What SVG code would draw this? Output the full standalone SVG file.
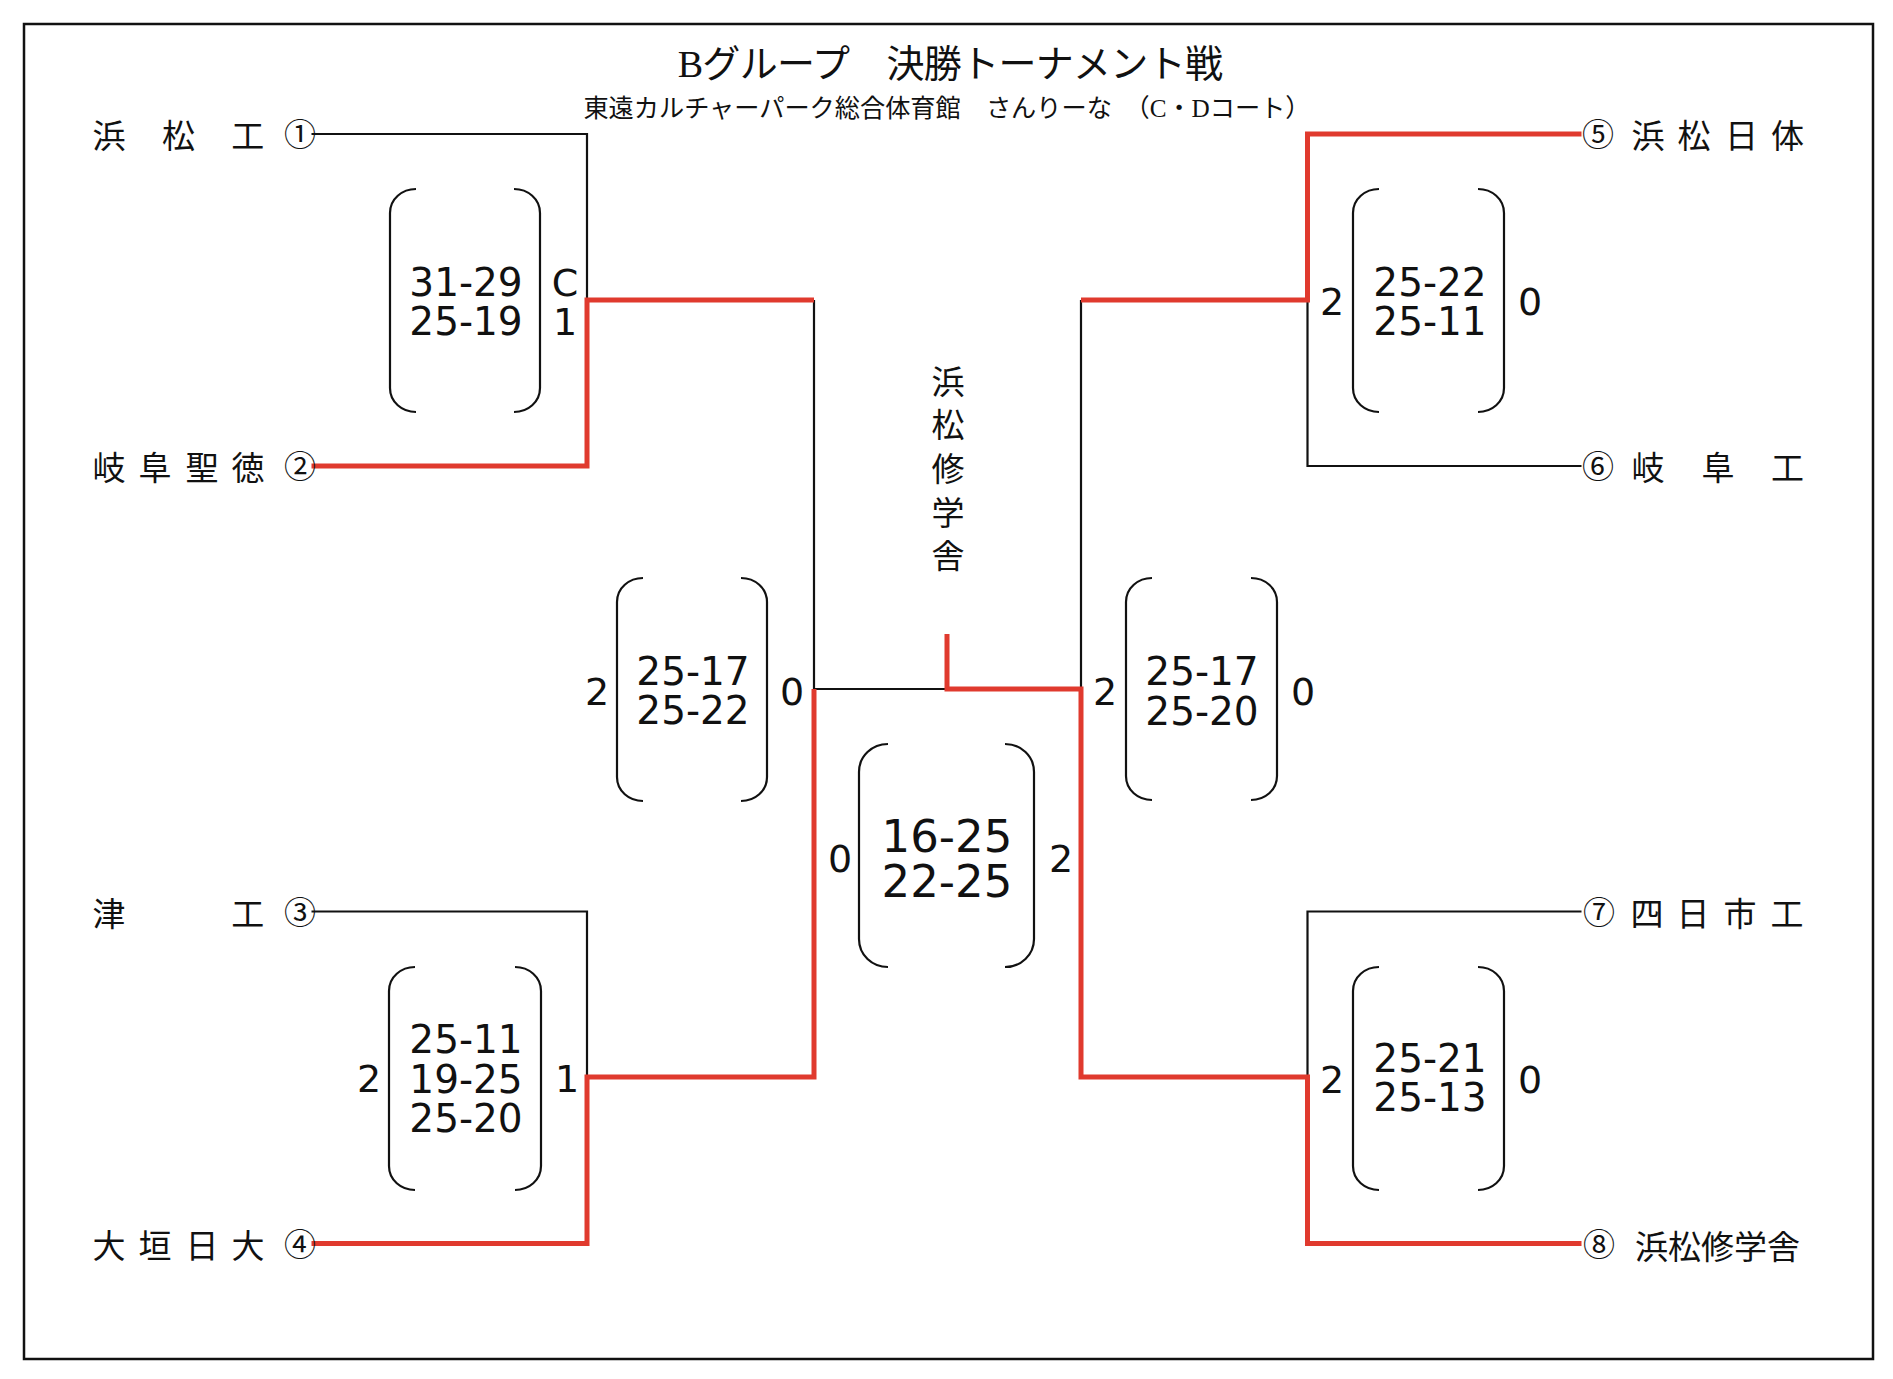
<svg xmlns="http://www.w3.org/2000/svg" width="1893" height="1379" viewBox="0 0 1893 1379">
<style>
.bk{fill:none;stroke:#111;stroke-width:2.2;stroke-linejoin:miter}
.rd{fill:none;stroke:#e03a2e;stroke-width:5;stroke-linejoin:miter}
.par{fill:none;stroke:#111;stroke-width:2.2}
.sc{font-family:"DejaVu Sans",sans-serif;font-size:39px;fill:#111;text-anchor:middle}
.scf{font-family:"DejaVu Sans",sans-serif;font-size:45px;fill:#111;text-anchor:middle}
.sn{font-family:"DejaVu Sans",sans-serif;font-size:38px;fill:#111;text-anchor:middle}
.tm{font-family:"Liberation Serif","Noto Sans CJK JP",serif;font-size:33px;fill:#111;text-anchor:middle}
.tml{font-family:"Liberation Serif","Noto Sans CJK JP",serif;font-size:33px;fill:#111}
.cn{font-family:"Noto Sans CJK JP",serif;font-size:32px;fill:#111;text-anchor:middle}
.ttl{font-family:"Liberation Serif","Noto Sans CJK JP",serif;fill:#111;text-anchor:middle}
</style>
<rect x="24" y="24" width="1849" height="1335" fill="#fff" stroke="#111" stroke-width="2.5"/>
<g id="title">
<text class="ttl" x="950" y="77" font-size="38" letter-spacing="-0.7">Bグループ　決勝トーナメント戦</text>
<text class="ttl" x="947" y="117" font-size="25.2">東遠カルチャーパーク総合体育館　さんりーな　（C・Dコート）</text>
</g>
<g id="connectors">
<path class="bk" d="M311.5,134 H587 V300"/>
<path class="bk" d="M814,300 V689 H947"/>
<path class="bk" d="M1081,300 V689"/>
<path class="bk" d="M1307.5,300 V466 H1581.5"/>
<path class="bk" d="M311.5,911.5 H587 V1077"/>
<path class="bk" d="M1581.5,911.5 H1307.5 V1077"/>
<path class="rd" d="M311.5,466 H587 V300 H814"/>
<path class="rd" d="M1581.5,134 H1307.5 V300 H1081"/>
<path class="rd" d="M311.5,1243.5 H587 V1077 H814 V689"/>
<path class="rd" d="M947,634 V689 H1081 V1077 H1307.5 V1243.5 H1581.5"/>
</g>
<g id="team1"><text class="tm" x="109 144 178.6 213 247.8" y="148">浜　松　工</text><text class="cn" x="300" y="146">①</text></g>
<g id="team2"><text class="tm" x="109 155 202 248" y="480">岐阜聖徳</text><text class="cn" x="300" y="478">②</text></g>
<g id="team3"><text class="tm" x="109 143.7 178.4 213 247.8" y="925.5">津　　　工</text><text class="cn" x="300" y="923.5">③</text></g>
<g id="team4"><text class="tm" x="109 155 202 248" y="1257.5">大垣日大</text><text class="cn" x="300" y="1255.5">④</text></g>
<g id="team5"><text class="cn" x="1598" y="146">⑤</text><text class="tm" x="1648 1694 1741.6 1787.5" y="148">浜松日体</text></g>
<g id="team6"><text class="cn" x="1598" y="478">⑥</text><text class="tm" x="1648 1683 1718 1753 1787.5" y="480">岐　阜　工</text></g>
<g id="team7"><text class="cn" x="1599" y="923.5">⑦</text><text class="tm" x="1647 1693 1740 1787" y="925.5">四日市工</text></g>
<g id="team8"><text class="cn" x="1599" y="1255.5">⑧</text><text class="tml" x="1635" y="1259">浜松修学舎</text></g>
<g id="champion"><text class="tm" font-size="34" x="948 948 948 948 948" y="394 437 481 525 568">浜松修学舎</text></g>
<g id="match1">
<path class="par" d="M416,189 C402,189 390,199 390,213 V388 C390,402 402,412 416,412"/>
<path class="par" d="M514,189 C528,189 540,199 540,213 V388 C540,402 528,412 514,412"/>
<text class="sc" x="466" y="296">31-29<tspan x="466" dy="39">25-19</tspan></text>
<text class="sn" x="565" y="296">C<tspan x="565" dy="39">1</tspan></text>
</g>
<g id="match2">
<path class="par" d="M643,578 C629,578 617,588 617,602 V777 C617,791 629,801 643,801"/>
<path class="par" d="M741,578 C755,578 767,588 767,602 V777 C767,791 755,801 741,801"/>
<text class="sc" x="693" y="685">25-17<tspan x="693" dy="39">25-22</tspan></text>
<text class="sn" x="597" y="705">2</text><text class="sn" x="792" y="705">0</text>
</g>
<g id="match3">
<path class="par" d="M415,967 C401,967 389,977 389,991 V1166 C389,1180 401,1190 415,1190"/>
<path class="par" d="M515,967 C529,967 541,977 541,991 V1166 C541,1180 529,1190 515,1190"/>
<text class="sc" x="466" y="1053">25-11<tspan x="466" dy="39.5">19-25</tspan><tspan x="466" dy="39.5">25-20</tspan></text>
<text class="sn" x="369" y="1092">2</text><text class="sn" x="567" y="1092">1</text>
</g>
<g id="final">
<path class="par" d="M888,744 C872,744 859,756 859,772 V939 C859,955 872,967 888,967"/>
<path class="par" d="M1005,744 C1021,744 1034,756 1034,772 V939 C1034,955 1021,967 1005,967"/>
<text class="scf" x="947" y="852">16-25<tspan x="947" dy="45">22-25</tspan></text>
<text class="sn" x="840" y="872">0</text><text class="sn" x="1061" y="872">2</text>
</g>
<g id="match5">
<path class="par" d="M1152,578 C1138,578 1126,588 1126,602 V776 C1126,790 1138,800 1152,800"/>
<path class="par" d="M1251,578 C1265,578 1277,588 1277,602 V776 C1277,790 1265,800 1251,800"/>
<text class="sc" x="1202" y="685">25-17<tspan x="1202" dy="40">25-20</tspan></text>
<text class="sn" x="1105" y="705">2</text><text class="sn" x="1303" y="705">0</text>
</g>
<g id="match6">
<path class="par" d="M1379,189 C1365,189 1353,199 1353,213 V388 C1353,402 1365,412 1379,412"/>
<path class="par" d="M1478,189 C1492,189 1504,199 1504,213 V388 C1504,402 1492,412 1478,412"/>
<text class="sc" x="1430" y="296">25-22<tspan x="1430" dy="39">25-11</tspan></text>
<text class="sn" x="1332" y="315">2</text><text class="sn" x="1530" y="315">0</text>
</g>
<g id="match7">
<path class="par" d="M1379,967 C1365,967 1353,977 1353,991 V1166 C1353,1180 1365,1190 1379,1190"/>
<path class="par" d="M1478,967 C1492,967 1504,977 1504,991 V1166 C1504,1180 1492,1190 1478,1190"/>
<text class="sc" x="1430" y="1072">25-21<tspan x="1430" dy="39">25-13</tspan></text>
<text class="sn" x="1332" y="1093">2</text><text class="sn" x="1530" y="1093">0</text>
</g>
</svg>
